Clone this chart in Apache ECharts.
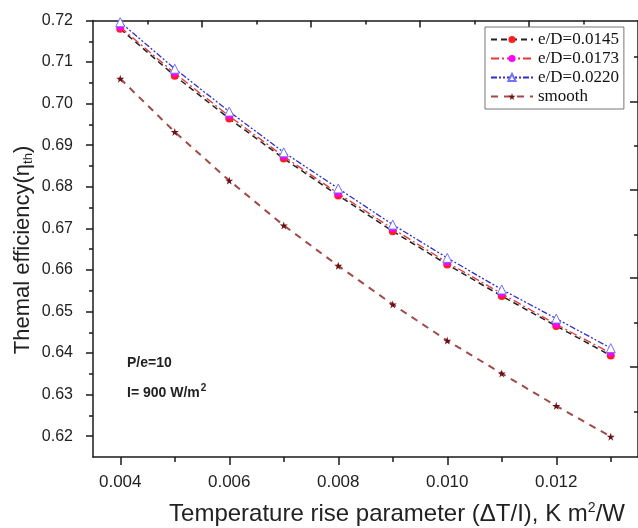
<!DOCTYPE html>
<html><head><meta charset="utf-8">
<script src="https://cdn.jsdelivr.net/npm/echarts@6/dist/echarts.min.js"></script>
<style>html,body{margin:0;padding:0;background:#fff}#c{width:638px;height:528px}</style>
</head><body><div id="c"></div>
<script>
// ---- data ----
const xValues = [0.004, 0.005, 0.006, 0.007, 0.008, 0.009, 0.010, 0.011, 0.012, 0.013];
const eD0145 = [0.7180, 0.7067, 0.6964, 0.6868, 0.6779, 0.6693, 0.6613, 0.6537, 0.6465, 0.6394];
const eD0173 = [0.7184, 0.7073, 0.6970, 0.6873, 0.6784, 0.6699, 0.6618, 0.6543, 0.6469, 0.6400];
const eD0220 = [0.7196, 0.7084, 0.6981, 0.6883, 0.6796, 0.6709, 0.6629, 0.6553, 0.6483, 0.6412];
const smooth = [0.7060, 0.6932, 0.6815, 0.6707, 0.6610, 0.6517, 0.6430, 0.6351, 0.6273, 0.6199];
const seriesNames = ['e/D=0.0145', 'e/D=0.0173', 'e/D=0.0220', 'smooth'];
// ---- ticks ----
const xMajorTicks = [0.004, 0.006, 0.008, 0.010, 0.012];
const xMinorTicks = [0.005, 0.007, 0.009, 0.011, 0.013];
const yMajorTicks = [0.62, 0.63, 0.64, 0.65, 0.66, 0.67, 0.68, 0.69, 0.70, 0.71, 0.72];
const yMinorTicks = [0.625, 0.635, 0.645, 0.655, 0.665, 0.675, 0.685, 0.695, 0.705, 0.715];
const topMajorTicks = [0.0055, 0.0075, 0.0095, 0.0115];
const topMinorTicks = [0.0045, 0.0065, 0.0085, 0.0105, 0.0125];
const rightMajorTicks = [0.7004, 0.6793, 0.6580, 0.6367];
const rightMinorTicks = [0.7112, 0.6898, 0.6685, 0.6472, 0.6260];

const X_MIN = 0.0035, X_MAX = 0.0135, Y_MIN = 0.615, Y_MAX = 0.72;
const SANS = '"Liberation Sans", Arial, sans-serif';
const SERIF = '"Liberation Serif", "Times New Roman", serif';
const AXC = '#1a1a1a';

function pairs(arr) { return xValues.map((x, i) => [x, arr[i]]); }

function xAx(opts) {
  return Object.assign({
    type: 'value', min: X_MIN, max: X_MAX, position: 'bottom',
    axisLine: { show: false, onZero: false, lineStyle: { color: AXC, width: 1.5 } },
    axisTick: { show: false }, axisLabel: { show: false }, splitLine: { show: false }
  }, opts);
}
function yAx(opts) {
  return Object.assign({
    type: 'value', min: Y_MIN, max: Y_MAX, position: 'left',
    axisLine: { show: false, onZero: false, lineStyle: { color: AXC, width: 1.5 } },
    axisTick: { show: false }, axisLabel: { show: false }, splitLine: { show: false }
  }, opts);
}

const starPath = 'path://M50,0 L61,35 L98,35 L68,57 L79,91 L50,70 L21,91 L32,57 L2,35 L39,35 Z';

const chart = echarts.init(document.getElementById('c'), null, { renderer: 'canvas' });
chart.setOption({
  animation: false,
  backgroundColor: '#fff',
  grid: { left: 93, top: 20.5, width: 548, height: 436.5, containLabel: false },
  xAxis: [
    xAx({
      axisLine: { show: true, onZero: false, lineStyle: { color: AXC, width: 1.5 } },
      axisTick: { show: true, customValues: xMajorTicks, length: 8, lineStyle: { color: AXC, width: 1.5 } },
      axisLabel: { show: true, customValues: xMajorTicks, formatter: v => v.toFixed(3), margin: 17,
        fontFamily: SANS, fontSize: 17, color: '#222' }
    }),
    xAx({ axisTick: { show: true, customValues: xMinorTicks, length: 5, lineStyle: { color: AXC, width: 1.5 } } }),
    xAx({ position: 'top',
      axisLine: { show: true, onZero: false, lineStyle: { color: AXC, width: 1.5 } },
      axisTick: { show: true, inside: true, customValues: topMajorTicks, length: 7, lineStyle: { color: AXC, width: 1.5 } } }),
    xAx({ position: 'top',
      axisTick: { show: true, inside: true, customValues: topMinorTicks, length: 4, lineStyle: { color: AXC, width: 1.5 } } })
  ],
  yAxis: [
    yAx({
      axisLine: { show: true, onZero: false, lineStyle: { color: AXC, width: 1.5 } },
      axisTick: { show: true, customValues: yMajorTicks, length: 7, lineStyle: { color: AXC, width: 1.5 } },
      axisLabel: { show: true, customValues: yMajorTicks, formatter: v => v.toFixed(2), margin: 20,
        fontFamily: SANS, fontSize: 16, color: '#222' }
    }),
    yAx({ axisTick: { show: true, customValues: yMinorTicks, length: 4, lineStyle: { color: AXC, width: 1.5 } } }),
    yAx({ position: 'right',
      axisLine: { show: true, onZero: false, lineStyle: { color: AXC, width: 1.5 } },
      axisTick: { show: true, inside: true, customValues: rightMajorTicks, length: 8, lineStyle: { color: AXC, width: 1.5 } } }),
    yAx({ position: 'right',
      axisTick: { show: true, inside: true, customValues: rightMinorTicks, length: 4, lineStyle: { color: AXC, width: 1.5 } } })
  ],
  legend: {
    orient: 'vertical', left: 485, top: 27,
    backgroundColor: '#fff', borderColor: '#777', borderWidth: 1,
    padding: [4, 5, 4, 5], itemGap: 2, itemWidth: 42, itemHeight: 9,
    textStyle: { fontFamily: SERIF, fontSize: 17, color: '#111' },
    data: seriesNames
  },
  series: [
    { name: seriesNames[0], type: 'line', xAxisIndex: 0, yAxisIndex: 0, data: pairs(eD0145),
      symbol: 'circle', symbolSize: 8, z: 3,
      itemStyle: { color: '#ff1f1f' },
      lineStyle: { color: '#222', width: 1.5, type: [6, 4] } },
    { name: seriesNames[1], type: 'line', xAxisIndex: 0, yAxisIndex: 0, data: pairs(eD0173),
      symbol: 'circle', symbolSize: 7, z: 4,
      itemStyle: { color: '#ff00ff' },
      lineStyle: { color: '#e23a3a', width: 1.3, type: [8, 3, 2, 3] } },
    { name: seriesNames[2], type: 'line', xAxisIndex: 0, yAxisIndex: 0, data: pairs(eD0220),
      symbol: 'triangle', symbolSize: 9, z: 5,
      itemStyle: { color: '#ffffff', borderColor: '#7070ff', borderWidth: 1 },
      lineStyle: { color: '#2f2fcc', width: 1.3, type: [6, 2, 2, 2, 2, 2] } },
    { name: seriesNames[3], type: 'line', xAxisIndex: 0, yAxisIndex: 0, data: pairs(smooth),
      symbol: starPath, symbolSize: 8, z: 3,
      itemStyle: { color: '#6b0f12' },
      lineStyle: { color: '#a24a48', width: 2, type: [7, 6] } }
  ],
  graphic: [
    { type: 'text', left: 127, top: 356,
      style: { text: 'P/e=10', font: 'bold 14px ' + SANS, fill: '#222' } },
    { type: 'text', left: 127, top: 383,
      style: { text: 'I= 900 W/m{sup|2}', font: 'bold 14px ' + SANS, fill: '#222',
        rich: { sup: { font: 'bold 10px ' + SANS, fill: '#222', verticalAlign: 'top', padding: [0, 0, 10, 1] } } } },
    { type: 'text', x: 397, y: 514,
      style: { text: 'Temperature rise parameter (ΔT/I), K m{sup|2}/W', font: '24px ' + SANS, fill: '#222',
        align: 'center', verticalAlign: 'middle',
        rich: { sup: { font: '14px ' + SANS, fill: '#222', padding: [0, 0, 12, 0] } } } },
    { type: 'text', x: 23, y: 250, rotation: Math.PI / 2,
      style: { text: 'Themal efficiency(η{sub|th})', font: '22px ' + SANS, fill: '#222',
        align: 'center', verticalAlign: 'middle',
        rich: { sub: { font: '13px ' + SANS, fill: '#222', padding: [11, 0, 0, 0] } } } }
  ]
});
</script>
</body></html>
